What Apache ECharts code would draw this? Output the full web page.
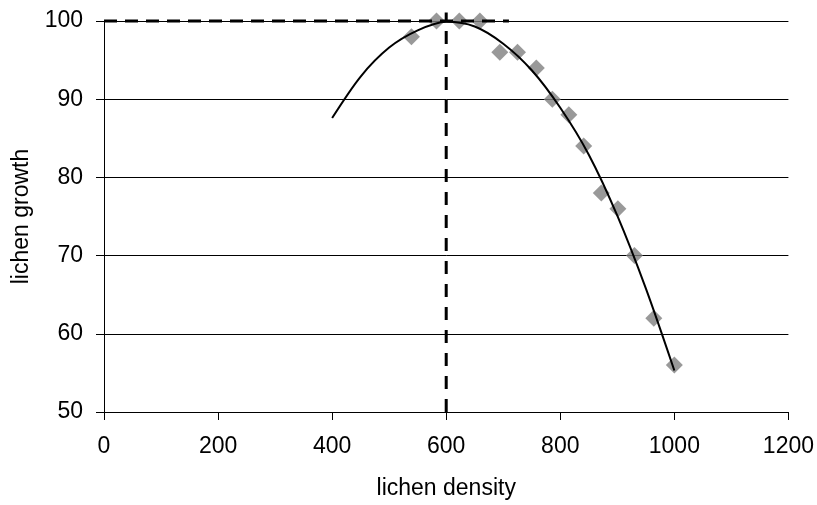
<!DOCTYPE html>
<html>
<head>
<meta charset="utf-8">
<script src="https://cdn.jsdelivr.net/npm/echarts@6/dist/echarts.min.js"></script>
<style>
  html, body { margin: 0; padding: 0; background: #fff; }
  #chart { width: 817px; height: 505px; }
</style>
</head>
<body>
<div id="chart"></div>
<script>
// measured points (lichen density, lichen growth)
const densityPts = [539, 583, 623, 659, 694, 725, 758, 786, 815, 841, 872, 901, 930, 964, 1000]
const growthPts = [98, 100, 100, 100, 96, 96, 94, 90, 88, 84, 78, 76, 70, 62, 56]

// trend curve
const trendX = [400, 450, 500, 550, 600, 650, 700, 750, 800, 850, 900, 950, 1000]
const trendY = [87.6, 92.9, 96.6, 98.8, 99.9, 99.3, 97.1, 93.7, 88.9, 82.9, 75.1, 65.8, 55.3]

// dashed guide lines
const guideH = [[0, 100], [710, 100]]
const guideV = [[600, 50], [600, 101.1]]

const xTicks = [0, 200, 400, 600, 800, 1000, 1200]
const yTicks = [50, 60, 70, 80, 90, 100]

const chart = echarts.init(document.getElementById('chart'))

const font = 'Liberation Sans, Arial, sans-serif'

chart.setOption({
  animation: false,
  grid: {
    left: 104,
    top: 21,
    right: 27,
    bottom: 90
  },
  xAxis: {
    type: 'value',
    min: xTicks[0],
    max: xTicks[xTicks.length - 1],
    interval: 200,
    name: 'lichen density',
    nameLocation: 'middle',
    nameGap: 65,
    nameTextStyle: { color: '#000', fontSize: 23, fontFamily: font },
    axisLine: { lineStyle: { color: '#000', width: 1 } },
    axisTick: { show: true, length: 8, lineStyle: { color: '#000' } },
    axisLabel: { color: '#000', fontSize: 23, fontFamily: font, margin: 23, formatter: v => String(v) },
    splitLine: { show: false }
  },
  yAxis: {
    type: 'value',
    min: yTicks[0],
    max: yTicks[yTicks.length - 1],
    interval: 10,
    name: 'lichen growth',
    nameLocation: 'middle',
    nameGap: 71,
    nameTextStyle: { color: '#000', fontSize: 23, fontFamily: font },
    axisLine: { show: true, lineStyle: { color: '#000', width: 1 } },
    axisTick: { show: true, length: 8, lineStyle: { color: '#000' } },
    axisLabel: { color: '#000', fontSize: 23, fontFamily: font, margin: 21, formatter: v => String(v) },
    splitLine: { show: true, lineStyle: { color: '#000', width: 1 } }
  },
  series: [
    {
      name: 'guide-h',
      type: 'line',
      data: guideH,
      symbol: 'none',
      clip: false,
      lineStyle: { color: '#000', width: 3, type: [13, 8] },
      z: 4
    },
    {
      name: 'guide-v',
      type: 'line',
      data: guideV,
      symbol: 'none',
      clip: false,
      lineStyle: { color: '#000', width: 3, type: [13, 10] },
      z: 4
    },
    {
      name: 'growth',
      type: 'scatter',
      data: densityPts.map((x, i) => [x, growthPts[i]]),
      symbol: 'diamond',
      symbolSize: 17,
      itemStyle: { color: '#808080' },
      clip: false,
      z: 3
    },
    {
      name: 'trend',
      type: 'line',
      data: trendX.map((x, i) => [x, trendY[i]]),
      symbol: 'none',
      smooth: 0.3,
      lineStyle: { color: '#000', width: 2 },
      z: 5
    }
  ]
})
</script>
</body>
</html>
